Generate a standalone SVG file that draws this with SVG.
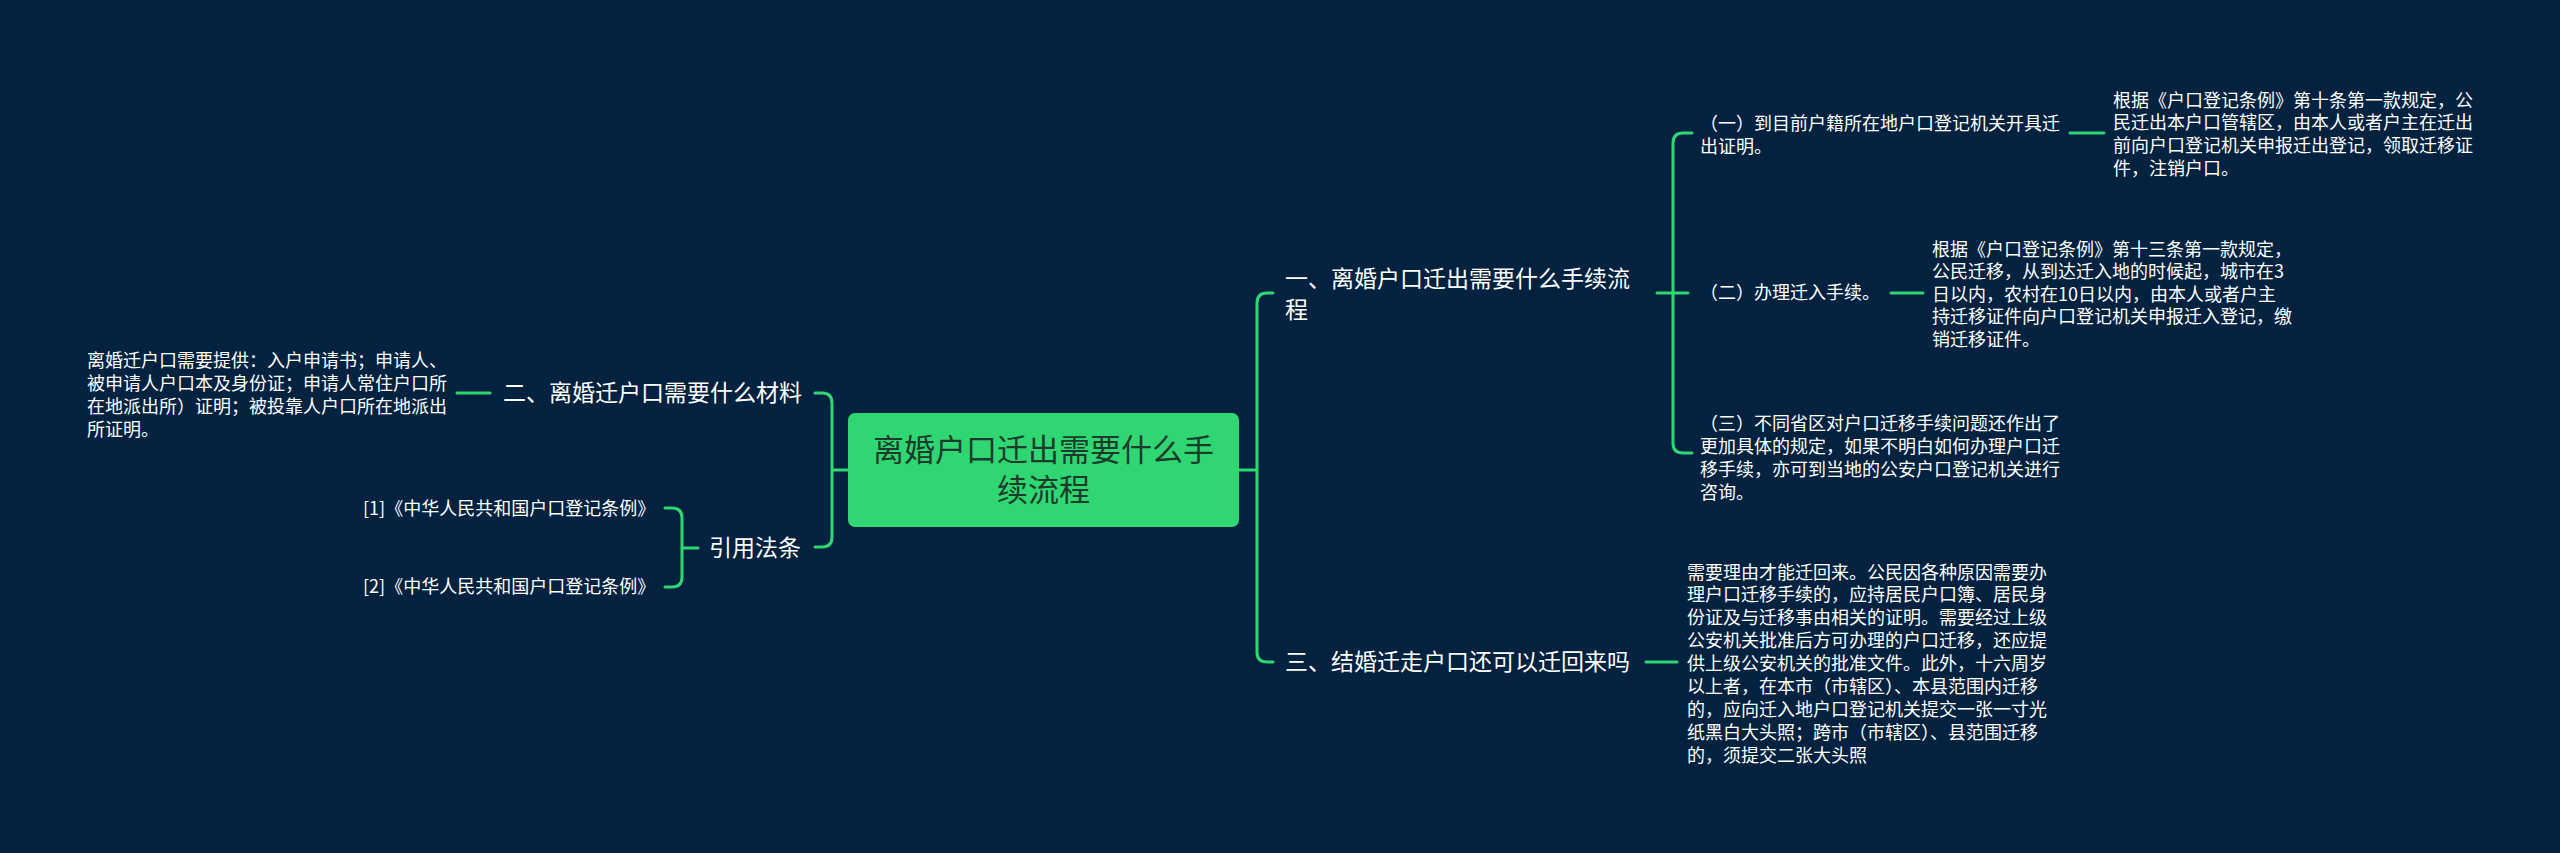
<svg xmlns="http://www.w3.org/2000/svg" width="2560" height="853" viewBox="0 0 2560 853">
<style>
.bg{fill:#022240}
.ln{fill:none;stroke:#30d672;stroke-width:3;stroke-linecap:round}
.t{font-family:"Noto Sans CJK SC","Noto Sans",sans-serif;fill:#ffffff}
.d{font-size:18px}
.b{font-size:23px}
.c{font-size:31px;fill:#1d3b2c}
</style>
<rect class="bg" x="0" y="0" width="2560" height="853"/>
<g id="connectors">
<path class="ln" d="M1239,470 H1257 M1273,293 H1267 Q1257,293 1257,303 V652 Q1257,662 1267,662 H1273"/>
<path class="ln" d="M1657,293 H1688 M1692,133 H1683 Q1673,133 1673,143 V443 Q1673,453 1683,453 H1692"/>
<path class="ln" d="M2070,133 H2104"/>
<path class="ln" d="M1891,293 H1923"/>
<path class="ln" d="M1646,662 H1677"/>
<path class="ln" d="M848,470 H832 M815,393 H822 Q832,393 832,403 V537 Q832,547 822,547 H815"/>
<path class="ln" d="M457,393 H490"/>
<path class="ln" d="M698,548 H682 M665,508 H672 Q682,508 682,518 V577 Q682,587 672,587 H665"/>
</g>
<g id="center">
<rect x="848" y="413" width="391" height="114" rx="7" fill="#2fd672"/>
<text class="t c" x="1043.5" y="461" text-anchor="middle">离婚户口迁出需要什么手</text>
<text class="t c" x="1043.5" y="501" text-anchor="middle">续流程</text>
</g>
<g id="b1">
<text class="t b" x="1285" y="287">一、离婚户口迁出需要什么手续流</text>
<text class="t b" x="1285" y="318">程</text>
</g>
<g id="b1-1">
<text class="t d" x="1700" y="129.5">（一）到目前户籍所在地户口登记机关开具迁</text>
<text class="t d" x="1700" y="153">出证明。</text>
</g>
<g id="b1-1-d">
<text class="t d" x="2113" y="106.5">根据《户口登记条例》第十条第一款规定，公</text>
<text class="t d" x="2113" y="129.3">民迁出本户口管辖区，由本人或者户主在迁出</text>
<text class="t d" x="2113" y="152">前向户口登记机关申报迁出登记，领取迁移证</text>
<text class="t d" x="2113" y="174.8">件，注销户口。</text>
</g>
<g id="b1-2">
<text class="t d" x="1700" y="299">（二）办理迁入手续。</text>
</g>
<g id="b1-2-d">
<text class="t d" x="1932" y="255.5">根据《户口登记条例》第十三条第一款规定，</text>
<text class="t d" x="1932" y="278">公民迁移，从到达迁入地的时候起，城市在3</text>
<text class="t d" x="1932" y="300.5">日以内，农村在10日以内，由本人或者户主</text>
<text class="t d" x="1932" y="323">持迁移证件向户口登记机关申报迁入登记，缴</text>
<text class="t d" x="1932" y="345.5">销迁移证件。</text>
</g>
<g id="b1-3">
<text class="t d" x="1700" y="429.5">（三）不同省区对户口迁移手续问题还作出了</text>
<text class="t d" x="1700" y="452.5">更加具体的规定，如果不明白如何办理户口迁</text>
<text class="t d" x="1700" y="475.5">移手续，亦可到当地的公安户口登记机关进行</text>
<text class="t d" x="1700" y="498.5">咨询。</text>
</g>
<g id="b3">
<text class="t b" x="1285" y="670">三、结婚迁走户口还可以迁回来吗</text>
</g>
<g id="b3-d">
<text class="t d" x="1687" y="578.5">需要理由才能迁回来。公民因各种原因需要办</text>
<text class="t d" x="1687" y="601.4">理户口迁移手续的，应持居民户口簿、居民身</text>
<text class="t d" x="1687" y="624.3">份证及与迁移事由相关的证明。需要经过上级</text>
<text class="t d" x="1687" y="647.2">公安机关批准后方可办理的户口迁移，还应提</text>
<text class="t d" x="1687" y="670.1">供上级公安机关的批准文件。此外，十六周岁</text>
<text class="t d" x="1687" y="693">以上者，在本市（市辖区）、本县范围内迁移</text>
<text class="t d" x="1687" y="715.9">的，应向迁入地户口登记机关提交一张一寸光</text>
<text class="t d" x="1687" y="738.8">纸黑白大头照；跨市（市辖区）、县范围迁移</text>
<text class="t d" x="1687" y="761.7">的，须提交二张大头照</text>
</g>
<g id="b2">
<text class="t b" x="503" y="401">二、离婚迁户口需要什么材料</text>
</g>
<g id="b2-d">
<text class="t d" x="87" y="366.5">离婚迁户口需要提供：入户申请书；申请人、</text>
<text class="t d" x="87" y="389.5">被申请人户口本及身份证；申请人常住户口所</text>
<text class="t d" x="87" y="412.5">在地派出所）证明；被投靠人户口所在地派出</text>
<text class="t d" x="87" y="435.5">所证明。</text>
</g>
<g id="b4">
<text class="t b" x="709" y="556">引用法条</text>
</g>
<g id="b4-1">
<text class="t d" x="363" y="514.5">[1]《中华人民共和国户口登记条例》</text>
</g>
<g id="b4-2">
<text class="t d" x="363" y="592.5">[2]《中华人民共和国户口登记条例》</text>
</g>
</svg>
